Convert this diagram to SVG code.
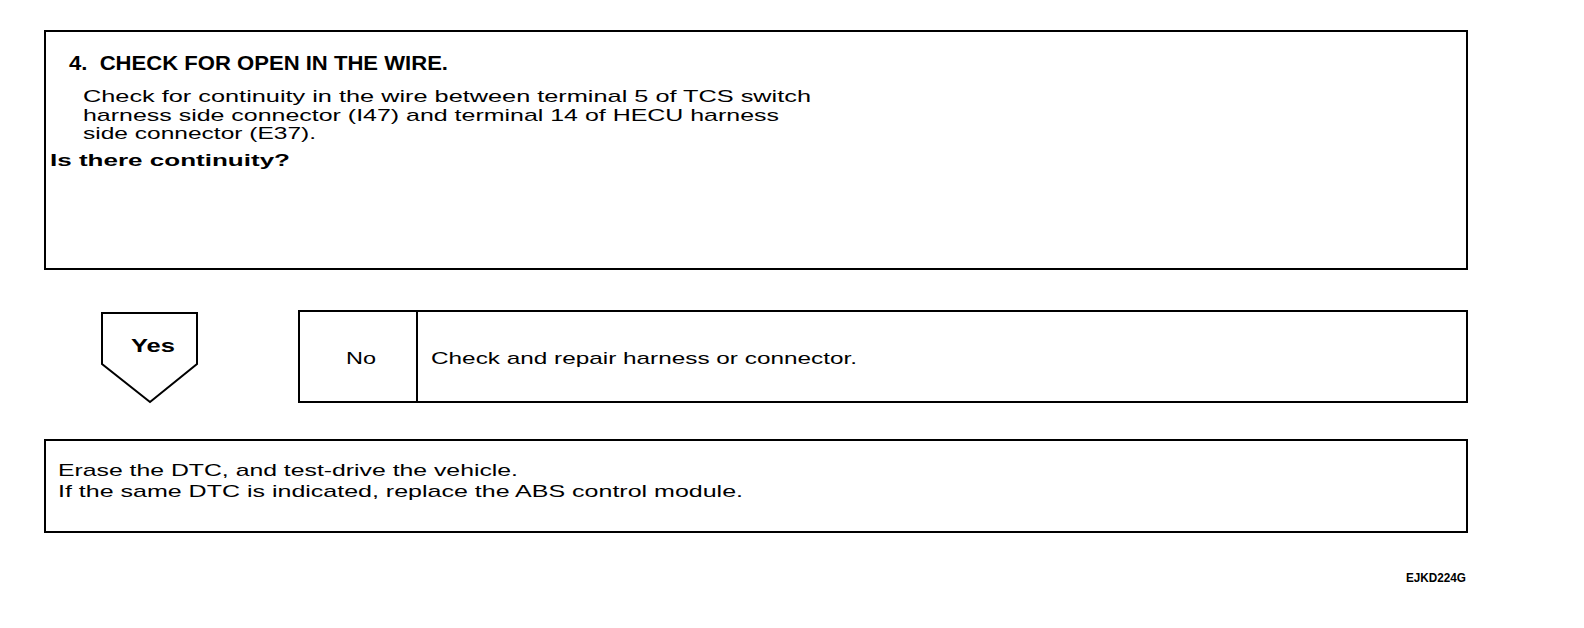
<svg xmlns="http://www.w3.org/2000/svg" width="1584" height="628" viewBox="0 0 1584 628">
<style>
.box{fill:#fff;stroke:#000;stroke-width:2}
.t{font-family:"Liberation Sans",Arial,sans-serif;font-size:17px;fill:#000}
.b{font-family:"Liberation Sans",Arial,sans-serif;font-weight:bold;fill:#000}
</style>
<rect width="1584" height="628" fill="#fff"/>
<g id="step4">
<rect class="box" x="45" y="31" width="1422" height="238"/>
<text class="b" x="69" y="70" font-size="20" textLength="379" lengthAdjust="spacingAndGlyphs" xml:space="preserve">4.  CHECK FOR OPEN IN THE WIRE.</text>
<text class="t" x="83" y="102" textLength="728" lengthAdjust="spacingAndGlyphs">Check for continuity in the wire between terminal 5 of TCS switch</text>
<text class="t" x="83" y="121" textLength="696" lengthAdjust="spacingAndGlyphs">harness side connector (I47) and terminal 14 of HECU harness</text>
<text class="t" x="83" y="139" textLength="233" lengthAdjust="spacingAndGlyphs">side connector (E37).</text>
<text class="b" x="50" y="166" font-size="17" textLength="240" lengthAdjust="spacingAndGlyphs">Is there continuity?</text>
</g>
<g id="yes">
<polygon class="box" points="102,313 197,313 197,364 150,402 102,364"/>
<text class="b" x="131" y="352" font-size="19" textLength="44" lengthAdjust="spacingAndGlyphs">Yes</text>
</g>
<g id="no">
<rect class="box" x="299" y="311" width="1168" height="91"/>
<line x1="417" y1="311" x2="417" y2="402" stroke="#000" stroke-width="2"/>
<text class="t" x="346" y="364" textLength="30" lengthAdjust="spacingAndGlyphs">No</text>
<text class="t" x="431" y="364" textLength="426" lengthAdjust="spacingAndGlyphs">Check and repair harness or connector.</text>
</g>
<g id="result">
<rect class="box" x="45" y="440" width="1422" height="92"/>
<text class="t" x="58" y="476" textLength="460" lengthAdjust="spacingAndGlyphs">Erase the DTC, and test-drive the vehicle.</text>
<text class="t" x="58" y="497" textLength="685" lengthAdjust="spacingAndGlyphs">If the same DTC is indicated, replace the ABS control module.</text>
</g>
<text class="b" x="1406" y="582" font-size="12" textLength="60" lengthAdjust="spacingAndGlyphs">EJKD224G</text>
<g id="connectors"/>
</svg>
